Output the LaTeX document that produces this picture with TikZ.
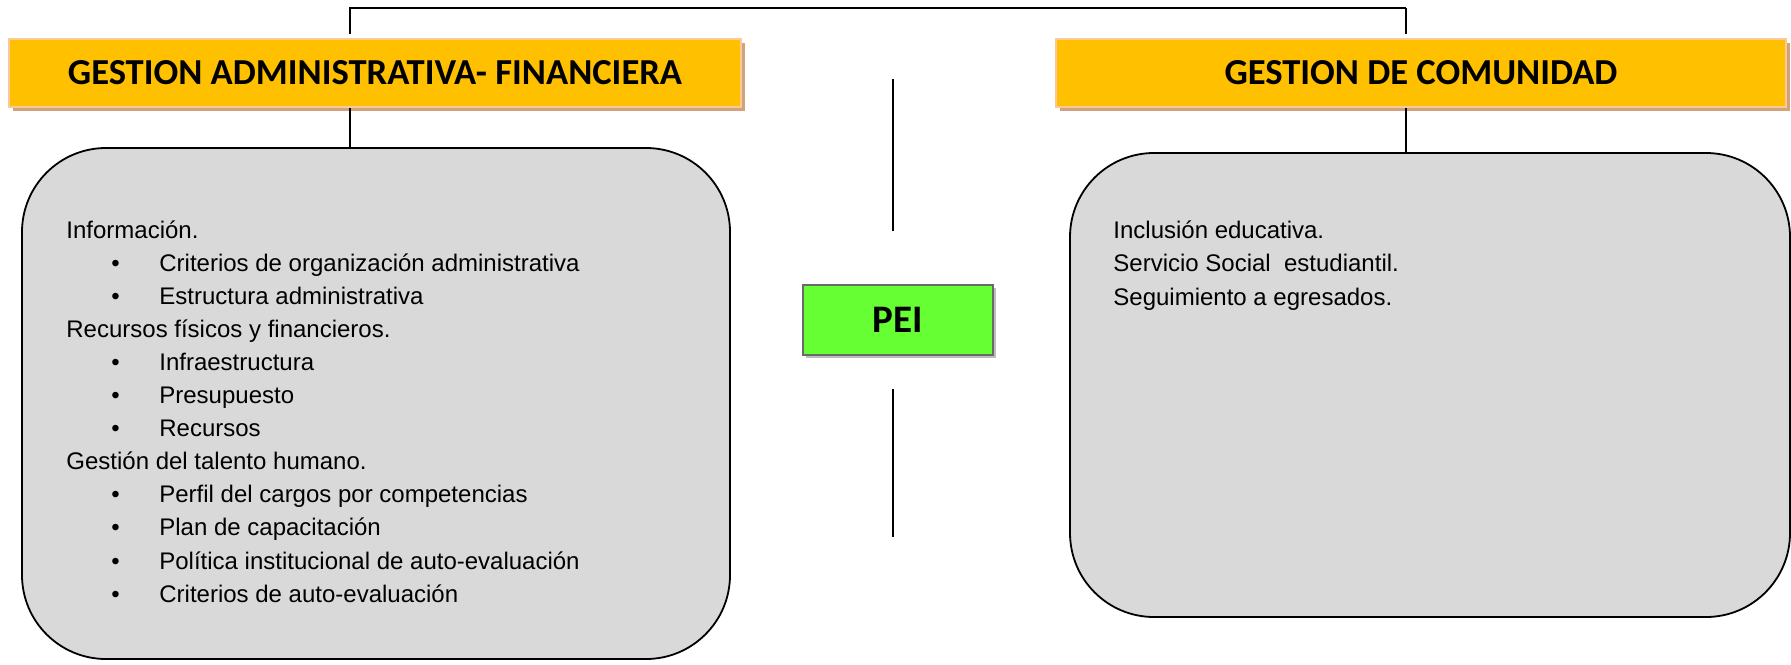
\documentclass[tikz,border=0pt]{standalone}
\usepackage{fontspec}
\newfontfamily\bodyfont{Liberation Sans}
\newfontfamily\hdrfont{Carlito}
\usetikzlibrary{shadows}
\definecolor{hdrfill}{HTML}{FFC000}
\definecolor{hdrline}{HTML}{FBC997}
\definecolor{hdrshade}{HTML}{D2A27C}
\definecolor{peifill}{HTML}{66FF33}
\definecolor{peiline}{HTML}{6A6A6A}
\definecolor{peishade}{HTML}{BDBDBD}
\definecolor{boxfill}{HTML}{D9D9D9}
\newcommand{\bul}{\makebox[24pt][l]{•}}

\begin{document}
\begin{tikzpicture}[x=0.5pt,y=-0.5pt,
    hdr/.style={draw=hdrline,line width=1pt,fill=hdrfill,minimum height=34pt,inner sep=0pt,
      font=\hdrfont\bfseries\fontsize{18.3pt}{22pt}\selectfont,
      drop shadow={shadow xshift=2pt,shadow yshift=-2pt,fill=hdrshade,opacity=1}},
    pei/.style={draw=peiline,line width=1pt,fill=peifill,minimum width=95pt,minimum height=35pt,inner sep=0pt,
      font=\hdrfont\bfseries\fontsize{19.5pt}{23pt}\selectfont,
      drop shadow={shadow xshift=1.5pt,shadow yshift=-1.5pt,fill=peishade,opacity=1}},
    card/.style={draw,line width=0.9pt,fill=boxfill,rounded corners=42pt,inner sep=0pt},
    item/.style={anchor=base west,inner sep=0pt,font=\bodyfont\fontsize{12pt}{16.5pt}\selectfont},
    link/.style={line width=0.75pt}]
    \useasboundingbox (0,0) rectangle (1791,664);
    \path ( 375,  73) node [hdr,minimum width=366pt] (hdrL) {GESTION ADMINISTRATIVA- FINANCIERA};
    \path (1421,  73) node [hdr,minimum width=365pt] (hdrR) {GESTION DE COMUNIDAD};
    \path ( 376,403.5) node [card,minimum width=354pt,minimum height=255.5pt] (boxL) {};
    \path (1430,  385) node [card,minimum width=360pt,minimum height=232pt] (boxR) {};
    \path ( 898, 320) node [pei] (pei) {PEI};
    \coordinate (topL) at ( 350,8);
    \coordinate (topR) at (1406,8);
    \coordinate (peiUp) at (893,79);
    \coordinate (peiDn) at (893,537);
    \draw [link,shorten <=2pt] (hdrL.north -| topL) -- (topL) -- (topR);
    \draw [link,shorten >=2pt] (topR) -- (hdrR.north -| topR);
    \draw [link] (hdrL.south -| topL) -- (boxL.north -| topL);
    \draw [link] (hdrR.south -| topR) -- (boxR.north -| topR);
    \draw [link,shorten <=26.5pt] (pei.north -| peiUp) -- (peiUp);
    \draw [link,shorten <=16.5pt] (pei.south -| peiDn) -- (peiDn);
    \foreach \x/\t [count=\i] in {66/Información.,
        111/\bul Criterios de organización administrativa,
        111/\bul Estructura administrativa,
        66/Recursos físicos y financieros.,
        111/\bul Infraestructura,
        111/\bul Presupuesto,
        111/\bul Recursos,
        66/Gestión del talento humano.,
        111/\bul Perfil del cargos por competencias,
        111/\bul Plan de capacitación,
        111/\bul Política institucional de auto-evaluación,
        111/\bul Criterios de auto-evaluación}
      \path (\x,{238+33.1*(\i-1)}) node [item] (infoL\i) {\t};
    \foreach \t [count=\i] in {Inclusión educativa.,
        Servicio Social~ estudiantil.,
        Seguimiento a egresados.}
      \path (1113,{238+33.5*(\i-1)}) node [item] (infoR\i) {\t};
\end{tikzpicture}
\end{document}
